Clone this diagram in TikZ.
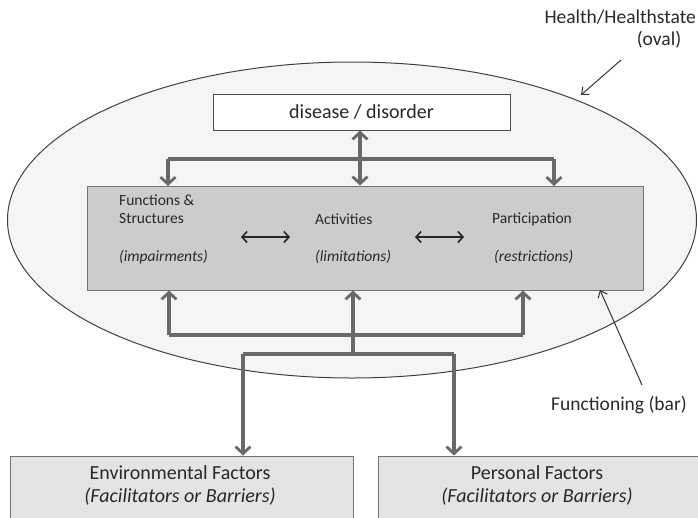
\documentclass[tikz,border=0pt]{standalone}
\usepackage{fontspec}
\setmainfont{Carlito}
\usetikzlibrary{arrows.meta,shapes.geometric}
\definecolor{conn}{RGB}{105,105,105}
\definecolor{barfill}{RGB}{204,204,204}
\definecolor{ovalfill}{RGB}{245,245,245}
\definecolor{factfill}{RGB}{228,228,228}
\definecolor{txt}{RGB}{40,40,40}
\tikzset{
  conn/.style={draw=conn, line width=3.6pt},
  tip/.style={-{Straight Barb[length=7pt,width=15pt,line width=2.8pt]}},
  dtip/.style={{Straight Barb[length=7pt,width=15pt,line width=2.8pt]}-{Straight Barb[length=7pt,width=15pt,line width=2.8pt]}},
  blk/.style={draw=black!85, line width=1.8pt, {Straight Barb[length=5pt,width=11pt,line width=1.6pt]}-{Straight Barb[length=5pt,width=11pt,line width=1.6pt]}},
  thin/.style={draw=black!80, line width=1pt, -{Straight Barb[length=6pt,width=10pt,line width=1pt]}},
  lbl/.style={font=\fontsize{15.5}{18}\selectfont, text=txt, inner sep=0pt},
  big/.style={font=\fontsize{20}{24}\selectfont, text=txt, inner sep=0pt},
  side/.style={font=\fontsize{19.5}{23}\selectfont, text=txt, inner sep=0pt},
}
\begin{document}
\begin{tikzpicture}[x=1pt,y=-1pt]
\useasboundingbox (0,0) rectangle (698,517);
% oval
\node (oval) [draw=black!75, line width=1pt, fill=ovalfill, ellipse, minimum width=689pt, minimum height=316pt, inner sep=0pt] at (352,220) {};
% disease box
\node (dis) [draw=black!70, line width=1pt, fill=white, minimum width=297pt, minimum height=36pt, inner sep=0pt, big] at (361.5,112) {disease / disorder};
% bar
\node (bar) [draw=black!55, line width=1pt, fill=barfill, minimum width=556pt, minimum height=104pt, inner sep=0pt] at (365,238) {};
% bar texts
\node (fs1) [lbl, anchor=west] at (119,200) {Functions \&};
\node (fs2) [lbl, anchor=west] at (119,219) {Structures};
\node (fs3) [lbl, anchor=west] at (119,257) {\itshape (impairments)};
\node (ac1) [lbl, anchor=west] at (315,219) {Activities};
\node (ac3) [lbl, anchor=west] at (315,257) {\itshape (limitations)};
\node (pa1) [lbl, anchor=west] at (492,219) {Participation};
\node (pa3) [lbl, anchor=west] at (494,257) {\itshape (restrictions)};
\coordinate (a1) at (241,237); \coordinate (a2) at (290,237);
\coordinate (b1) at (415,237); \coordinate (b2) at (464,237);
\draw[blk] (a1) -- (a2);
\draw[blk] (b1) -- (b2);
% top connectors
\coordinate (tl) at (168,159); \coordinate (tr) at (554,159);
\coordinate (tlb) at (168,186); \coordinate (trb) at (554,186);
\draw[conn] (tl) -- (tr);
\draw[conn, tip] (tl) -- (tlb);
\draw[conn, tip] (tr) -- (trb);
\draw[conn, dtip] (dis.south -| 360,0) -- (bar.north -| 360,0);
% bottom connectors
\coordinate (bl) at (169,335); \coordinate (bm) at (353,335); \coordinate (br) at (523,335);
\draw[conn] (bl) -- (br);
\draw[conn, tip] (bl) -- (bar.south -| bl);
\draw[conn, tip] (bm) -- (bar.south -| bm);
\draw[conn, tip] (br) -- (bar.south -| br);
\coordinate (jm) at (353,354); \coordinate (jl) at (243,354); \coordinate (jr) at (454,354);
\draw[conn] (bm) -- (jm);
\draw[conn] (jl) -- (jr);
% factor boxes
\node (env) [draw=black!55, line width=1pt, fill=factfill, minimum width=343pt, minimum height=70pt, inner sep=0pt] at (181.5,491) {};
\node (per) [draw=black!55, line width=1pt, fill=factfill, minimum width=330pt, minimum height=70pt, inner sep=0pt] at (543,491) {};
\draw[conn, tip] (jl) -- (env.north -| jl);
\draw[conn, tip] (jr) -- (per.north -| jr);
\node (envt) [big] at (180,473) {Environmental Factors};
\node (envi) [big] at (180,497) {\itshape (Facilitators or Barriers)};
\node (pert) [big] at (537,473) {Personal Factors};
\node (peri) [big] at (537,497) {\itshape (Facilitators or Barriers)};
% labels
\node (hl1) [side, anchor=east] at (696,17) {Health/Healthstate};
\node (hl2) [side] at (659,40) {(oval)};
\coordinate (hs) at (621,60); \coordinate (he) at (581,95);
\draw[thin] (hs) -- (he);
\node (fb) [side, anchor=east] at (687,405) {Functioning (bar)};
\coordinate (fs) at (642,385); \coordinate (fe) at (600,290);
\draw[thin] (fs) -- (fe);
\end{tikzpicture}
\end{document}
